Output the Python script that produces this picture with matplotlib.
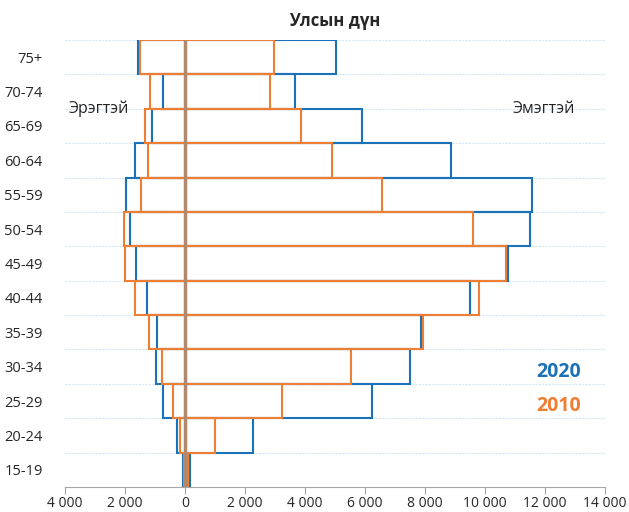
import numpy as np
import matplotlib.pyplot as plt
from matplotlib.ticker import FuncFormatter, MultipleLocator

# Насны бүлэг (доороос дээш)
nas = ['15-19', '20-24', '25-29', '30-34', '35-39', '40-44', '45-49',
       '50-54', '55-59', '60-64', '65-69', '70-74', '75+']

# 2020 он
er_2020 = [77, 267, 733, 967, 943, 1257, 1623, 1843, 1957, 1677, 1090, 743, 1557]
em_2020 = [157, 2278, 6222, 7489, 7878, 9489, 10778, 11500, 11567, 8867, 5900, 3657, 5043]

# 2010 он
er_2010 = [43, 157, 390, 757, 1190, 1657, 1990, 2043, 1457, 1243, 1323, 1167, 1490]
em_2010 = [90, 1000, 3222, 5533, 7933, 9810, 10689, 9610, 6577, 4910, 3877, 2833, 2977]

BLUE = '#1c72b8'
ORANGE = '#ee7e32'

plt.rcParams['font.family'] = ['Open Sans', 'DejaVu Sans']

fig = plt.figure(figsize=(6.29, 5.12), dpi=100)
ax = fig.add_axes([0.1033, 0.0488, 0.8587, 0.8731])

y = np.arange(len(nas))
for er, em, c, z in [(er_2020, em_2020, BLUE, 2), (er_2010, em_2010, ORANGE, 3)]:
    er = np.array(er)
    em = np.array(em)
    ax.barh(y, er + em, left=-er, height=1.0, facecolor='none',
            edgecolor=c, linewidth=1.5, zorder=z)

# тэг шугам
ax.axvline(0, color='#b0896c', linewidth=2.5, zorder=5)

# тор шугам
for g in y[:-1] + 0.5:
    ax.axhline(g, color='#d6e6f4', linewidth=0.8, linestyle=(0, (2, 1)), zorder=1)
ax.axhline(len(nas) - 0.5, color='#d6e6f4', linewidth=0.8, linestyle=(0, (2, 1)), zorder=1)

ax.set_xlim(-4000, 14000)
ax.set_ylim(-0.5, len(nas) - 0.5)
ax.xaxis.set_major_locator(MultipleLocator(2000))
ax.xaxis.set_major_formatter(FuncFormatter(lambda v, p: f"{abs(int(v)):,}".replace(',', ' ')))
ax.set_yticks(y)
ax.set_yticklabels(nas)

for s in ['top', 'right', 'left']:
    ax.spines[s].set_visible(False)
ax.spines['bottom'].set_color('#a6a6a6')
ax.tick_params(axis='y', length=0, pad=16, labelsize=10.5, colors='#262626')
ax.tick_params(axis='x', length=5, pad=1.5, color='#a6a6a6', labelsize=10, colors='#262626')

ax.set_title('Улсын дүн', fontsize=12, fontweight='bold', color='#262626', pad=10)

ax.text(-3880, 10.5, 'Эрэгтэй', fontsize=11.5, color='#262626', va='center', ha='left')
ax.text(13000, 10.5, 'Эмэгтэй', fontsize=11.5, color='#262626', va='center', ha='right')
ax.text(13200, 2.85, '2020', fontsize=14, fontweight='bold', color=BLUE, va='center', ha='right')
ax.text(13200, 1.85, '2010', fontsize=14, fontweight='bold', color=ORANGE, va='center', ha='right')

fig.savefig('out.png', dpi=100)
